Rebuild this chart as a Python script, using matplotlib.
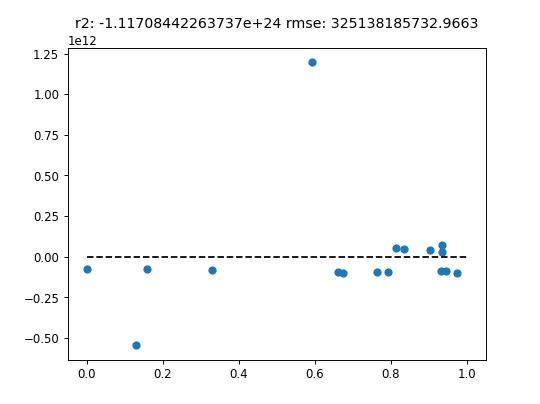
import matplotlib
matplotlib.use('Agg')
import matplotlib.pyplot as plt

x_vals = [0.0, 0.13, 0.16, 0.33, 0.662, 0.674, 0.764, 0.793, 0.814, 0.834,
          0.902, 0.934, 0.934, 0.932, 0.945, 0.974, 0.593]
y_vals = [-0.078, -0.545, -0.074, -0.082, -0.091, -0.097, -0.093, -0.095, 0.051, 0.046,
          0.042, 0.070, 0.029, -0.089, -0.089, -0.097, 1.195]
y_vals = [v * 1e12 for v in y_vals]

line_x = [0, 1]
line_y = [0, 0]

title = 'r2: -1.11708442263737e+24 rmse: 325138185732.9663'

fig = plt.figure(figsize=(6.4, 4.79), dpi=84.375)
plt.scatter(x_vals, y_vals)
plt.plot(line_x, line_y, 'k--')
plt.title(title)

plt.savefig('out.png', dpi=84.375)
